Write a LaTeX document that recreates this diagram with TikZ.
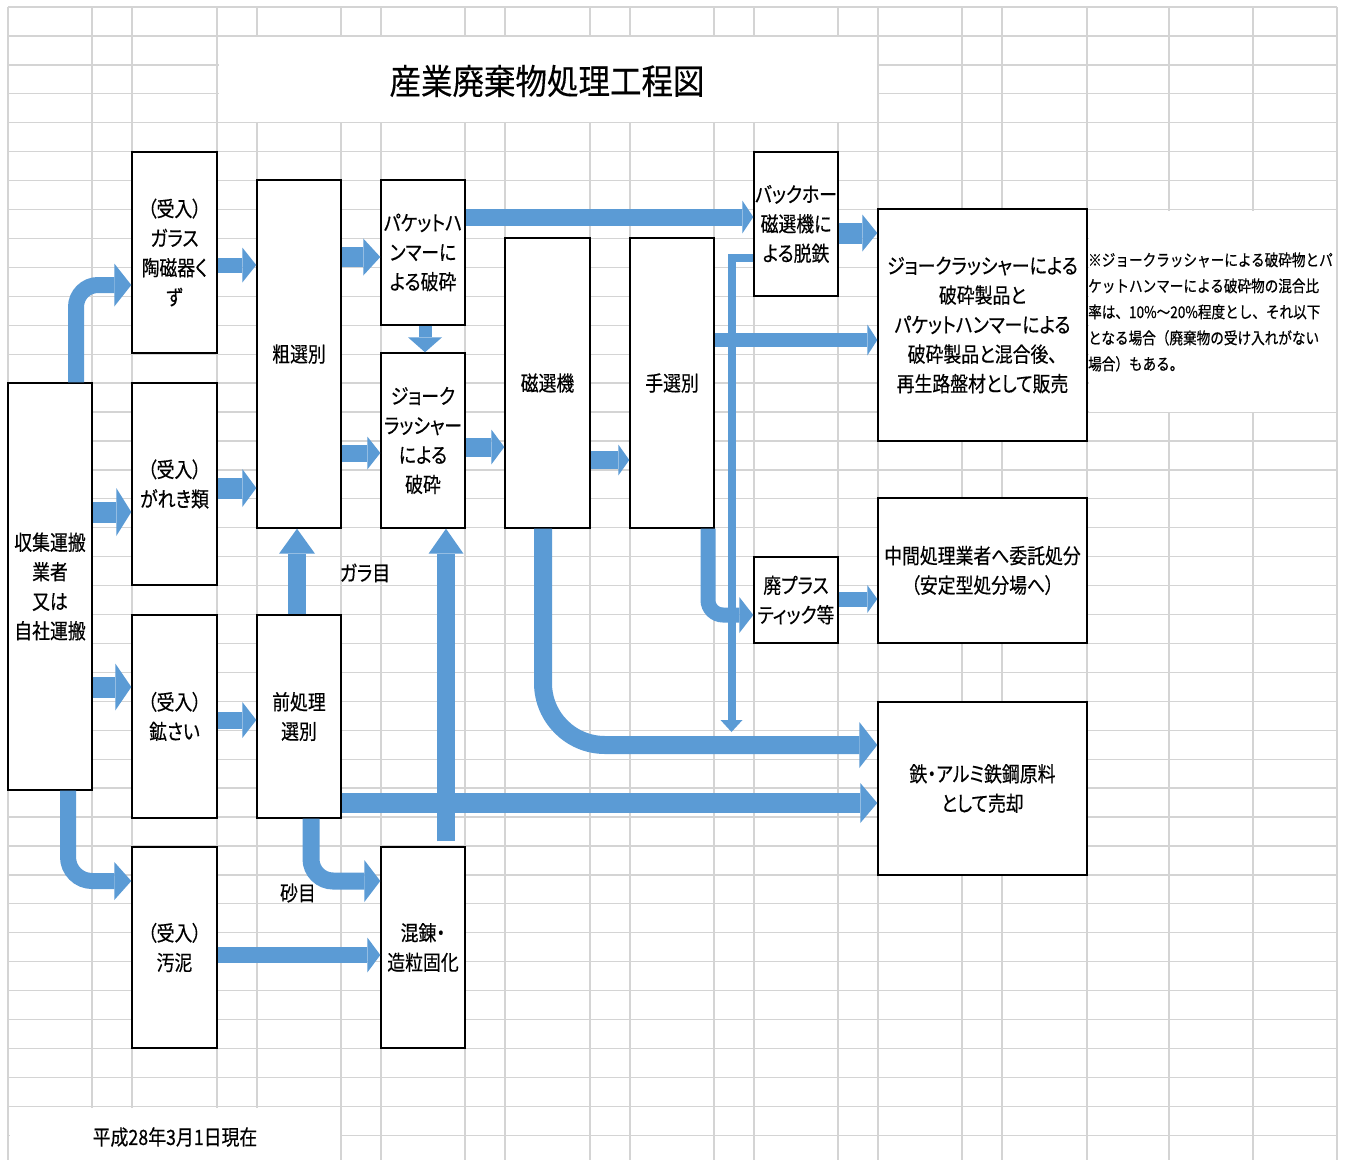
\documentclass[tikz,border=0pt]{standalone}
\usepackage{fontspec}
\newfontfamily\jp[RawFeature=+palt,FakeStretch=0.85,FakeBold=0.4]{Noto Sans CJK JP}
\newfontfamily\jpmono[FakeStretch=0.84,FakeBold=0.6]{Noto Sans CJK JP}
\newfontfamily\jptitle[FakeStretch=0.9,FakeBold=0.3]{Noto Sans CJK JP}
\usetikzlibrary{arrows.meta,calc}
\definecolor{ablue}{HTML}{5B9BD5}
\definecolor{gridc}{HTML}{D4D4D4}
\newcommand\jpbody{\jp\fontsize{21}{29.5}\selectfont}
\tikzset{
  gridline/.style={draw=gridc, line width=1.3},
  box/.style={draw=black, line width=1.4, fill=white, inner sep=0pt, align=center, font=\jpbody},
  lbl/.style={inner sep=0pt, font=\jpbody},
  barrow/.style n args={3}{draw=ablue, line width=#1, line join=miter,
    -{Triangle[width=#2pt,length=#3pt,line width=0pt]}},
}
\begin{document}
\begin{tikzpicture}[x=1pt,y=-1pt]
\useasboundingbox (0,0) rectangle (1345,1160);
\fill[white] (0,0) rectangle (1345,1160);
% spreadsheet grid
\foreach \k in {0,...,39} \draw[gridline] (8,{7+28.93*\k}) -- (1337,{7+28.93*\k});
\foreach \x in {8,92,132,217,257,341,381,465,505,590,630,714,754,838,878,962,1002,1087,1169,1253,1337}
  \draw[gridline] (\x,7) -- (\x,1160);
% merged cells
\fill[white] (218.5,37) rectangle (876.5,122);
\fill[white] (1088.5,211) rectangle (1335.5,411.5);
\fill[white] (9.5,1108) rectangle (339.5,1160);
% title
\node[inner sep=0pt, font=\jptitle\fontsize{35}{40}\selectfont] (title) at (547,81) {産業廃棄物処理工程図};
% boxes
\node[box, minimum width=84, minimum height=407] (src) at (50,586.5) {収集運搬\\業者\\又は\\自社運搬};
\node[box, minimum width=85, minimum height=201] (glass) at (174.5,252.5) {（受入）\\ガラス\\陶磁器く\\ず};
\node[box, minimum width=85, minimum height=202] (rubble) at (174.5,484) {（受入）\\がれき類};
\node[box, minimum width=85, minimum height=203] (slag) at (174.5,716.5) {（受入）\\鉱さい};
\node[box, minimum width=85, minimum height=201] (sludge) at (174.5,947.5) {（受入）\\汚泥};
\node[box, minimum width=84, minimum height=348] (coarse) at (299,354) {粗選別};
\node[box, minimum width=84, minimum height=203] (pre) at (299,716.5) {前処理\\選別};
\node[box, minimum width=84, minimum height=145] (bucket) at (423,252.5) {パケットハ\\ンマーに\\よる破砕};
\node[box, minimum width=84, minimum height=175] (jaw) at (423,440.5) {ジョーク\\ラッシャー\\による\\破砕};
\node[box, minimum width=84, minimum height=201] (mix) at (423,947.5) {混錬・\\造粒固化};
\node[box, minimum width=85, minimum height=290] (mag) at (547.5,383) {磁選機};
\node[box, minimum width=84, minimum height=290] (hand) at (672,383) {手選別};
\node[box, minimum width=84, minimum height=144] (back) at (796,224) {バックホー\\磁選機に\\よる脱鉄};
\node[box, minimum width=84, minimum height=86] (plastic) at (796,600) {廃プラス\\ティック等};
\node[box, minimum width=209, minimum height=232] (prod) at (982.5,325) {ジョークラッシャーによる\\破砕製品と\\パケットハンマーによる\\破砕製品と混合後、\\再生路盤材として販売};
\node[box, minimum width=209, minimum height=145] (mid) at (982.5,570.5) {中間処理業者へ委託処分\\（安定型処分場へ）};
\node[box, minimum width=209, minimum height=173] (iron) at (982.5,788.5) {鉄・アルミ鉄鋼原料\\として売却};
% note and labels
\node[inner sep=0pt, anchor=west, align=left, font=\jpmono\fontsize{16.2}{26}\selectfont] (note) at (1088,312)
  {※ジョークラッシャーによる破砕物とパ\\ケットハンマーによる破砕物の混合比\\率は、10\%～20\%程度とし、それ以下\\となる場合（廃棄物の受け入れがない\\場合）もある。};
\node[lbl] (garame) at (365,573) {ガラ目};
\node[lbl] (sunome) at (298,893) {砂目};
\node[lbl] (date) at (175,1137) {平成28年3月1日現在};
\coordinate (dropend) at (731.5,732);
% arrows
\draw[barrow={16}{43}{17}, rounded corners=22] (src.north -| 76,0) |- (glass.west |- 0,285);
\draw[barrow={21}{48}{15}] (src.east |- 0,512) -- (rubble.west |- 0,512);
\draw[barrow={21}{47}{16}] (src.east |- 0,687) -- (slag.west |- 0,687);
\draw[barrow={16}{38}{17}, rounded corners=24] (src.south -| 68,0) |- (sludge.west |- 0,881);
\draw[barrow={15}{35}{14}] (glass.east |- 0,265) -- (coarse.west |- 0,265);
\draw[barrow={21}{38}{14}] (rubble.east |- 0,488) -- (coarse.west |- 0,488);
\draw[barrow={17}{36}{14}] (slag.east |- 0,720) -- (pre.west |- 0,720);
\draw[barrow={18}{36}{25}] (pre.north -| 297,0) -- (coarse.south -| 297,0);
\draw[barrow={17}{42}{16}, rounded corners=22] (pre.south -| 311,0) |- (mix.west |- 0,881);
\draw[barrow={16}{35}{13}] (sludge.east |- 0,955) -- (mix.west |- 0,955);
\draw[barrow={20}{37}{17}] (coarse.east |- 0,257) -- (bucket.west |- 0,257);
\draw[barrow={17}{33}{13}] (coarse.east |- 0,453) -- (jaw.west |- 0,453);
\draw[barrow={13}{34}{15}] (bucket.south -| 425,0) -- (jaw.north -| 425,0);
\draw[barrow={17}{33}{11}] (bucket.east |- 0,217) -- (back.west |- 0,217);
\draw[barrow={19}{35}{13}] (jaw.east |- 0,447) -- (mag.west |- 0,447);
\draw[barrow={18}{31}{11}] (mag.east |- 0,460) -- (hand.west |- 0,460);
\draw[barrow={21}{37}{15}] (back.east |- 0,233) -- (prod.west |- 0,233);
\draw[barrow={14}{31}{10}] (hand.east |- 0,340) -- (prod.west |- 0,340);
\draw[barrow={15}{36}{14}, rounded corners=15] (hand.south -| 708,0) |- (plastic.west |- 0,615);
\draw[barrow={15}{28}{10}] (plastic.east |- 0,599) -- (mid.west |- 0,599);
\draw[barrow={18}{46}{18}, rounded corners=62] (mag.south -| 543,0) |- (iron.west |- 0,745);
\draw[barrow={8}{22}{12}] (back.west |- 0,258) -| (dropend);
\draw[barrow={20}{40}{17}] (pre.east |- 0,803) -- (iron.west |- 0,803);
\draw[barrow={18}{35}{25}] ($(mix.north -| 446,0)+(0,-5)$) -- (jaw.south -| 446,0);
\end{tikzpicture}
\end{document}
